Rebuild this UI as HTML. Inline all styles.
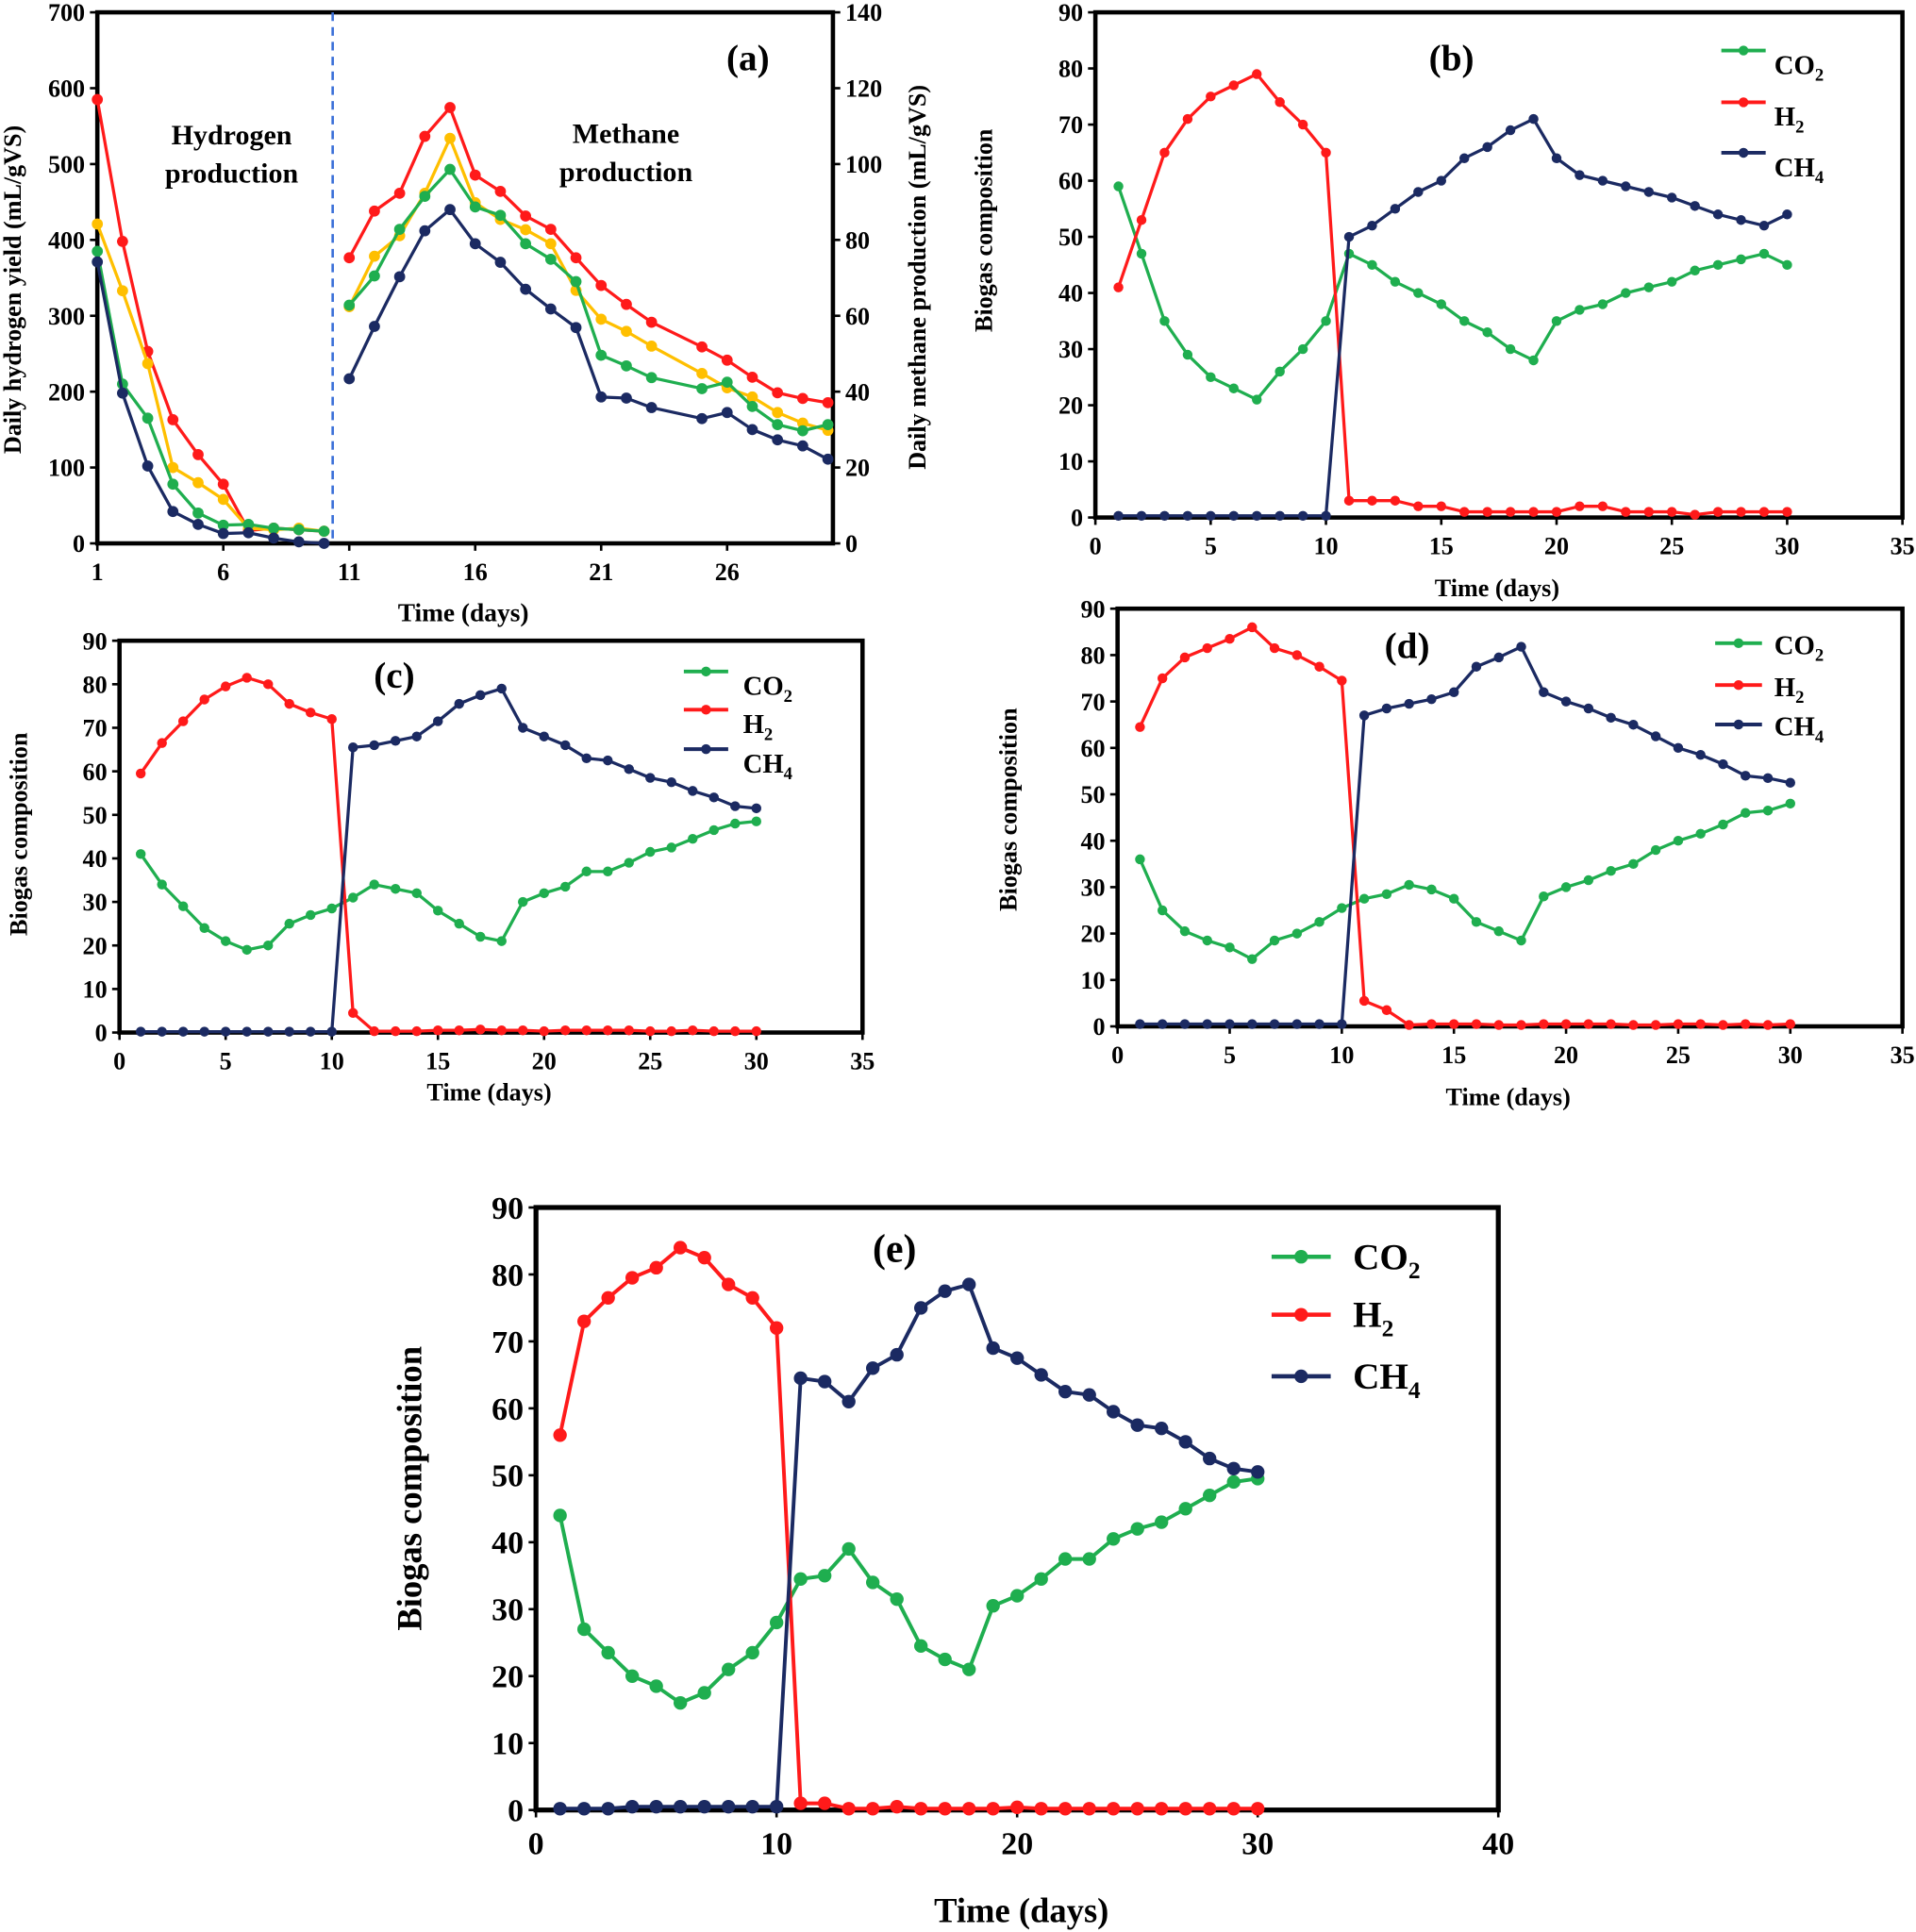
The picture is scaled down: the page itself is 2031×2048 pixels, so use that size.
<!DOCTYPE html>
<html><head><meta charset="utf-8">
<style>
html,body{margin:0;padding:0;background:#fff;}
svg{display:block;font-family:"Liberation Serif",serif;font-weight:bold;}
</style></head>
<body>
<svg id="fig" width="2031" height="2048" viewBox="0 0 1555 1568" xmlns="http://www.w3.org/2000/svg"></svg>
<script>
// ---------- data ----------
const daysH = [1,2,3,4,5,6,7,8,9,10];
const daysM = [11,12,13,14,15,16,17,18,19,20,21,22,23,25,26,27,28,29,30];
const aH2Red = [585,398,253,163,117,78,17,20,18,16];
const aH2Yellow = [421,333,237,100,80,58,20,18,20,16];
const aH2Green = [385,210,165,78,40,24,25,20,18,16];
const aH2Navy = [371,198,102,42,25,13,14,7,2,0];
const aCH4Red = [75.3,87.6,92.3,107.3,114.9,97.1,92.8,86.3,82.8,75.3,68,63,58.3,51.8,48.3,43.8,39.7,38.2,37.1];
const aCH4Yellow = [62.4,75.7,81.1,92.3,106.8,89.8,85.4,82.7,79,66.7,59.1,55.9,52,44.8,41,38.6,34.5,31.7,29.8];
const aCH4Green = [62.8,70.5,82.8,91.5,98.6,88.7,86.5,79,74.9,69,49.6,46.8,43.7,40.8,42.5,36.1,31.3,29.7,31.3];
const aCH4Navy = [43.4,57.2,70.3,82.4,88,79,74.1,67,61.8,56.9,38.6,38.3,35.8,32.9,34.5,30,27.3,25.7,22.2];
const aLeftTicks = [0,100,200,300,400,500,600,700];
const aRightTicks = [0,20,40,60,80,100,120,140];
const aXTicks = [1,6,11,16,21,26];

const days = [1,2,3,4,5,6,7,8,9,10,11,12,13,14,15,16,17,18,19,20,21,22,23,24,25,26,27,28,29,30];
const bCO2 = [59,47,35,29,25,23,21,26,30,35,47,45,42,40,38,35,33,30,28,35,37,38,40,41,42,44,45,46,47,45];
const bH2 = [41,53,65,71,75,77,79,74,70,65,3,3,3,2,2,1,1,1,1,1,2,2,1,1,1,0.5,1,1,1,1];
const bCH4 = [0.3,0.3,0.3,0.3,0.3,0.3,0.3,0.3,0.3,0.3,50,52,55,58,60,64,66,69,71,64,61,60,59,58,57,55.5,54,53,52,54];
const cCO2 = [41,34,29,24,21,19,20,25,27,28.5,31,34,33,32,28,25,22,21,30,32,33.5,37,37,39,41.5,42.5,44.5,46.5,48,48.5];
const cH2 = [59.5,66.5,71.5,76.5,79.5,81.5,80,75.5,73.5,72,4.5,0.3,0.3,0.3,0.5,0.5,0.7,0.5,0.5,0.3,0.5,0.5,0.5,0.5,0.3,0.3,0.5,0.3,0.3,0.3];
const cCH4 = [0.2,0.2,0.2,0.2,0.2,0.2,0.2,0.2,0.2,0.2,65.5,66,67,68,71.5,75.5,77.5,79,70,68,66,63,62.5,60.5,58.5,57.5,55.5,54,52,51.5];
const dCO2 = [36,25,20.5,18.5,17,14.5,18.5,20,22.5,25.5,27.5,28.5,30.5,29.5,27.5,22.5,20.5,18.5,28,30,31.5,33.5,35,38,40,41.5,43.5,46,46.5,48];
const dH2 = [64.5,75,79.5,81.5,83.5,86,81.5,80,77.5,74.5,5.5,3.5,0.3,0.5,0.5,0.5,0.3,0.3,0.5,0.5,0.5,0.5,0.3,0.3,0.5,0.5,0.3,0.5,0.3,0.5];
const dCH4 = [0.5,0.5,0.5,0.5,0.5,0.5,0.5,0.5,0.5,0.5,67,68.5,69.5,70.5,72,77.5,79.5,81.8,72,70,68.5,66.5,65,62.5,60,58.5,56.5,54,53.5,52.5];
const eCO2 = [44,27,23.5,20,18.5,16,17.5,21,23.5,28,34.5,35,39,34,31.5,24.5,22.5,21,30.5,32,34.5,37.5,37.5,40.5,42,43,45,47,49,49.5];
const eH2 = [56,73,76.5,79.5,81,84,82.5,78.5,76.5,72,1,1,0.2,0.2,0.5,0.2,0.2,0.2,0.2,0.4,0.2,0.2,0.2,0.2,0.2,0.2,0.2,0.2,0.2,0.2];
const eCH4 = [0.2,0.2,0.2,0.5,0.5,0.5,0.5,0.5,0.5,0.5,64.5,64,61,66,68,75,77.5,78.5,69,67.5,65,62.5,62,59.5,57.5,57,55,52.5,51,50.5];
const compYTicks = [0,10,20,30,40,50,60,70,80,90];
const compXTicks35 = [0,5,10,15,20,25,30,35];
const compXTicks40 = [0,10,20,30,40];

const GREEN='#1fae4f', RED='#ff1a1a', NAVY='#1b2a62', YELLOW='#ffbf00';
const NS='http://www.w3.org/2000/svg';
const svg=document.getElementById('fig');
function mk(tag,attrs,parent,text){const e=document.createElementNS(NS,tag);for(const k in attrs)e.setAttribute(k,attrs[k]);if(text!==undefined)e.textContent=text;(parent||svg).appendChild(e);return e;}
function scale(d0,d1,r0,r1){return v=>r0+(v-d0)*(r1-r0)/(d1-d0);}

function series(g,xs,ys,X,Y,color,r,w,name){
  const pts=xs.map((x,i)=>X(x).toFixed(1)+','+Y(ys[i]).toFixed(1)).join(' ');
  const pl=mk('polyline',{points:pts,fill:'none',stroke:color,'stroke-width':w,'stroke-linejoin':'round'},g);
  
  
  xs.forEach((x,i)=>{
    const c=mk('circle',{cx:X(x),cy:Y(ys[i]),r:r,fill:color},g);
    
    
  });
}

function frame(g,L,R,T,B,bw){
  const f=mk('rect',{x:L,y:T,width:R-L,height:B-T,fill:'none',stroke:'#000','stroke-width':bw},g);
  
  
}

function compPanel(id,L,R,T,B,xmax,xticks,co2,h2,ch4,opt){
  const g=mk('g',{});
  
  
  const X=scale(0,xmax,L,R), Y=scale(0,90,B,T);
  const fs=opt.fs;
  frame(g,L,R,T,B,opt.bw);
  compYTicks.forEach(v=>{
    mk('line',{x1:L-6,x2:L,y1:Y(v),y2:Y(v),stroke:'#000','stroke-width':2},g);
    const t=mk('text',{x:L-10,y:Y(v)+fs*0.35,'text-anchor':'end','font-size':fs},g,String(v));
    
    
  });
  xticks.forEach(v=>{
    mk('line',{x1:X(v),x2:X(v),y1:B,y2:B+6,stroke:'#000','stroke-width':2},g);
    const t=mk('text',{x:X(v),y:B+fs+10,'text-anchor':'middle','font-size':fs},g,String(v));
    
    
  });
  series(g,days,co2,X,Y,GREEN,opt.r,opt.lw,'co2');
  series(g,days,h2,X,Y,RED,opt.r,opt.lw,'h2');
  series(g,days,ch4,X,Y,NAVY,opt.r,opt.lw,'ch4');
  const xl=mk('text',{x:opt.xlx,y:opt.xly,'text-anchor':'middle','font-size':opt.lfs},g,'Time (days)');
  
  
  const yl=mk('text',{x:0,y:0,'text-anchor':'middle','font-size':opt.lfs,transform:`translate(${opt.ylx},${opt.yly}) rotate(-90)`},g,'Biogas composition');
  
  
  const pl=mk('text',{x:opt.plx,y:opt.ply,'text-anchor':'middle','font-size':opt.pfs},g,'('+id+')');
  
  
  const leg=[['CO','2',GREEN,'legend-co2'],['H','2',RED,'legend-h2'],['CH','4',NAVY,'legend-ch4']];
  leg.forEach((l,i)=>{
    const y=opt.legY[i];
    const lg=mk('g',{},g);
    
    
    mk('line',{x1:opt.legX1,x2:opt.legX2,y1:y,y2:y,stroke:l[2],'stroke-width':opt.lw+0.5},lg);
    mk('circle',{cx:(opt.legX1+opt.legX2)/2,cy:y,r:opt.r,fill:l[2]},lg);
    const t=mk('text',{x:opt.legTx,y:y+opt.legDy,'font-size':opt.legFs},lg,l[0]);
    mk('tspan',{'font-size':opt.legFs*0.65,dy:opt.legFs*0.25},t,l[1]);
  });
}

// ---------- panel (a) ----------
(function(){
  const L=79,R=676,T=10,B=441;
  const g=mk('g',{});
  
  
  const X=scale(1,30.2,L,R), YL=scale(0,700,B,T), YR=scale(0,140,B,T);
  frame(g,L,R,T,B,3.5);
  aLeftTicks.forEach(v=>{
    mk('line',{x1:L-6,x2:L,y1:YL(v),y2:YL(v),stroke:'#000','stroke-width':2},g);
    const t=mk('text',{x:L-10,y:YL(v)+7,'text-anchor':'end','font-size':20},g,String(v));
    
    
  });
  aRightTicks.forEach(v=>{
    mk('line',{x1:R,x2:R+6,y1:YR(v),y2:YR(v),stroke:'#000','stroke-width':2},g);
    const t=mk('text',{x:R+10,y:YR(v)+7,'text-anchor':'start','font-size':20},g,String(v));
    
    
  });
  aXTicks.forEach(v=>{
    mk('line',{x1:X(v),x2:X(v),y1:B,y2:B+6,stroke:'#000','stroke-width':2},g);
    const t=mk('text',{x:X(v),y:B+30,'text-anchor':'middle','font-size':20},g,String(v));
    
    
  });
  const dl=mk('line',{x1:270,x2:270,y1:T,y2:B,stroke:'#3a6fd8','stroke-width':2,'stroke-dasharray':'7,5'},g);
  
  
  series(g,daysH,aH2Red,X,YL,RED,4.5,2.5,'h2-red');
  series(g,daysH,aH2Yellow,X,YL,YELLOW,4.5,2.5,'h2-yellow');
  series(g,daysH,aH2Green,X,YL,GREEN,4.5,2.5,'h2-green');
  series(g,daysH,aH2Navy,X,YL,NAVY,4.5,2.5,'h2-navy');
  series(g,daysM,aCH4Red,X,YR,RED,4.5,2.5,'ch4-red');
  series(g,daysM,aCH4Yellow,X,YR,YELLOW,4.5,2.5,'ch4-yellow');
  series(g,daysM,aCH4Green,X,YR,GREEN,4.5,2.5,'ch4-green');
  series(g,daysM,aCH4Navy,X,YR,NAVY,4.5,2.5,'ch4-navy');
  [['Hydrogen',188,117],['production',188,148],['Methane',508,116],['production',508,147]].forEach(a=>{
    const t=mk('text',{x:a[1],y:a[2],'text-anchor':'middle','font-size':23},g,a[0]);
    
    
  });
  const pl=mk('text',{x:607,y:57,'text-anchor':'middle','font-size':30},g,'(a)');
  
  
  const xl=mk('text',{x:376,y:504,'text-anchor':'middle','font-size':21},g,'Time (days)');
  
  
  const yl=mk('text',{x:0,y:0,'text-anchor':'middle','font-size':20,transform:'translate(17,235) rotate(-90)'},g,'Daily hydrogen yield (mL/gVS)');
  
  
  const yr=mk('text',{x:0,y:0,'text-anchor':'middle','font-size':20,transform:'translate(751,225) rotate(-90)'},g,'Daily methane production (mL/gVS)');
  
  
})();

compPanel('b',889,1544,10,420,35,compXTicks35,bCO2,bH2,bCH4,{fs:20,lfs:20,bw:3.5,r:4,lw:2.5,xlx:1215,xly:484,ylx:805,yly:187,plx:1178,ply:57,pfs:30,legY:[41,83,124],legX1:1397,legX2:1433,legTx:1440,legDy:19,legFs:22});
compPanel('c',97,700,520,838,35,compXTicks35,cCO2,cH2,cCH4,{fs:20,lfs:20,bw:3.5,r:4,lw:2.5,xlx:397,xly:893,ylx:22,yly:677,plx:320,ply:558,pfs:30,legY:[545,576,608],legX1:555,legX2:591,legTx:603,legDy:19,legFs:22});
compPanel('d',907,1544,494,833,35,compXTicks35,dCO2,dH2,dCH4,{fs:20,lfs:20,bw:3.5,r:4,lw:2.5,xlx:1224,xly:897,ylx:825,yly:657,plx:1142,ply:534,pfs:30,legY:[522,556,588],legX1:1392,legX2:1430,legTx:1440,legDy:9,legFs:22});
compPanel('e',435,1216,980,1469,40,compXTicks40,eCO2,eH2,eCH4,{fs:26,lfs:28,bw:4,r:5.5,lw:3,xlx:829,xly:1560,ylx:342,yly:1208,plx:726,ply:1024,pfs:32,legY:[1020,1067,1117],legX1:1032,legX2:1080,legTx:1098,legDy:10,legFs:30});
</script>
</body></html>
